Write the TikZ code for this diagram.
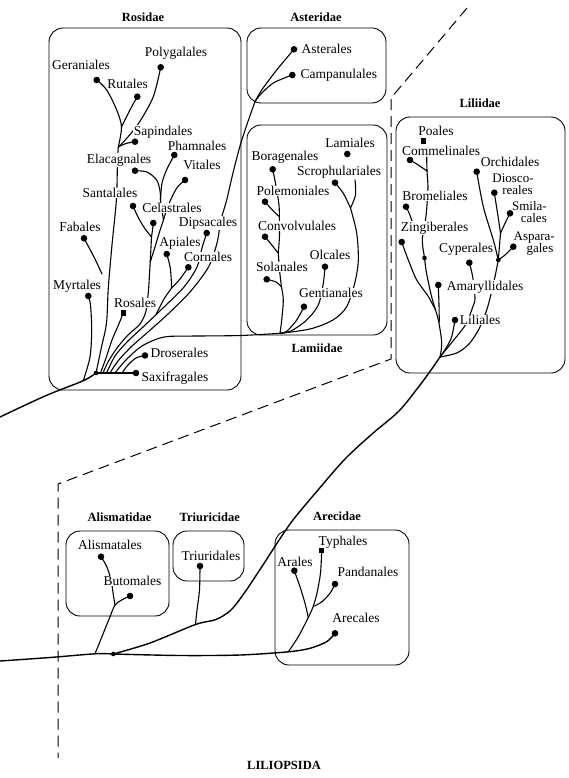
\documentclass[tikz,border=0pt]{standalone}
\usepackage{fontspec}
\setmainfont{Liberation Serif}
\begin{document}
\begin{tikzpicture}[x=1pt,y=-1pt,
  grp/.style={draw, line width=0.9pt, rounded corners=14pt},
  br/.style={line width=1.1pt, line cap=round, line join=round},
  stem/.style={br, line width=1.4pt},
  dsh/.style={line width=1pt, dash pattern=on 11pt off 6pt},
  lbl/.style={fill=white, inner sep=0.5pt, font=\fontsize{13.5}{11.5}\selectfont},
  mlbl/.style={lbl, inner sep=0pt, font=\fontsize{13}{13}\selectfont},
  ttl/.style={inner sep=0pt, font=\bfseries\fontsize{12.5}{14}\selectfont},
  dotr/.style={radius=3.3pt},
]
\useasboundingbox (0,0) rectangle (569,778);
\fill[white] (0,0) rectangle (569,778);

% ---------- coordinates: Rosidae ----------
\coordinate (dGer) at (96.7,80);
\coordinate (dRut) at (137.3,96.7);
\coordinate (jRut) at (121.5,127);
\coordinate (dPol) at (160.7,67.3);
\coordinate (dSap) at (135,141.7);
\coordinate (jGer) at (118.3,147);
\coordinate (dPha) at (174.3,155);
\coordinate (jPha) at (160.5,200);
\coordinate (dEla) at (135,170.7);
\coordinate (dVit) at (185,180);
\coordinate (jVit) at (163.5,220);
\coordinate (dCel1) at (133,206);
\coordinate (dCel2) at (153.3,223);
\coordinate (jCel) at (151.5,237);
\coordinate (jC2) at (150.2,262);
\coordinate (jC0) at (103,373);
\coordinate (dDip) at (206.7,233);
\coordinate (jD0) at (106.5,373);
\coordinate (dApi) at (166.7,254);
\coordinate (dCor) at (188.3,267.3);
\coordinate (jAC) at (171.7,288);
\coordinate (jAC2) at (156,314.6);
\coordinate (jS0) at (110,373);
\coordinate (jL0) at (115,373);
\coordinate (dFab) at (84,238.3);
\coordinate (jFab) at (102,274);
\coordinate (dMyr) at (88.3,296);
\coordinate (jMyr) at (83.3,380.7);
\coordinate (dRos) at (123.3,313);
\coordinate (jR0) at (100.5,373);
\coordinate (dDro) at (145,355.5);
\coordinate (jDr0) at (122,373);
\coordinate (dSax) at (136,373);
\coordinate (rBase) at (96,373);
\coordinate (rIn) at (0,417);
% ---------- Asteridae ----------
\coordinate (dAstr) at (294,49.3);
\coordinate (dCamp) at (292.3,75);
\coordinate (jAst) at (255,101.7);
% ---------- Lamiidae ----------
\coordinate (dLami) at (347.3,154);
\coordinate (jLamT) at (355,180);
\coordinate (dScr) at (335,182.7);
\coordinate (jScr) at (350.5,208);
\coordinate (dBor) at (272.7,169.3);
\coordinate (dPolm) at (265,201.7);
\coordinate (jPol) at (279.3,216.7);
\coordinate (dCon) at (265,236.7);
\coordinate (jCon) at (278.3,253.3);
\coordinate (dSol) at (266.7,279.3);
\coordinate (jSol) at (281.5,287);
\coordinate (dOlc) at (325,266.7);
\coordinate (dGen) at (304,306.7);
\coordinate (jLam) at (280,333.3);
% ---------- Liliidae ----------
\coordinate (dPoa) at (423.3,141);
\coordinate (jPoT) at (426.7,157);
\coordinate (dCom) at (410,160);
\coordinate (jCom) at (427,171);
\coordinate (dBro) at (406,206.7);
\coordinate (jBro) at (413,224);
\coordinate (dZin) at (401.7,242);
\coordinate (jZin) at (424.5,258);
\coordinate (jZ2) at (435.5,310);
\coordinate (dOrc) at (476.7,171.7);
\coordinate (dDio) at (494.3,192.7);
\coordinate (dSmi) at (510,213.3);
\coordinate (jDS) at (500.5,233.3);
\coordinate (dAsp) at (513.3,246.7);
\coordinate (jOrc) at (498.3,260);
\coordinate (dCyp) at (469.3,262.7);
\coordinate (dAma) at (438.3,285);
\coordinate (jAm2) at (439.3,322);
\coordinate (dLili) at (455,320);
\coordinate (jLil) at (440,357);
% ---------- lower ----------
\coordinate (mIn) at (0,661);
\coordinate (dMain) at (113.3,654);
\coordinate (jAli) at (95,653.8);
\coordinate (dAli) at (101,556.7);
\coordinate (dBut) at (130,596);
\coordinate (jBut) at (115,605);
\coordinate (dTri) at (200,566);
\coordinate (jTri) at (195.5,624.5);
\coordinate (dAra) at (294.3,570.7);
\coordinate (dTyp) at (321.7,550.7);
\coordinate (dPan) at (335,584);
\coordinate (jPT) at (314.5,606);
\coordinate (jAr) at (308.3,617.5);
\coordinate (jAre) at (288.3,651.8);
\coordinate (dAre) at (335,633.3);
% dashed divider
\coordinate (ds1) at (467,8);
\coordinate (ds2) at (391,98);
\coordinate (ds3) at (391,359);
\coordinate (ds4) at (58,484);
\coordinate (ds5) at (58,758);

% ---------- boxes ----------
\draw[grp] (49,28) rectangle (241,390);
\draw[grp] (247,28) rectangle (386,103);
\draw[grp] (247,125) rectangle (387,335);
\draw[grp] (396,117) rectangle (565,373);
\draw[grp] (66,531) rectangle (169,616);
\draw[grp] (173,531) rectangle (244,581);
\draw[grp] (275,530) rectangle (409,665);

\draw[dsh] (ds1) -- (ds2) -- (ds3) -- (ds4) -- (ds5);

% ---------- Rosidae branches ----------
\draw[stem] plot[smooth] coordinates {(rIn) (45,396) (jMyr) (rBase)};
\draw[br] plot[smooth] coordinates {(jMyr) (90,357) (91.7,330) (90.5,305) (dMyr)};
\draw[br] plot[smooth] coordinates {(jGer) (117.5,160) (117,185) (116,205) (112,245) (108.3,288) (106.5,323) (101.5,347) (rBase)};
\draw[br] plot[smooth] coordinates {(dGer) (106.7,90) (116.7,110) (jRut) (jGer)};
\draw[br] plot[smooth] coordinates {(dRut) (131,108) (jRut)};
\draw[br] plot[smooth] coordinates {(dPol) (153.3,96.7) (139.5,122) (127,138) (jGer)};
\draw[br] plot[smooth] coordinates {(dSap) (126,143.5) (jGer)};
\draw[br] plot[smooth] coordinates {(dEla) (147,172) (156.7,180) (160,191) (jPha)};
\draw[br] plot[smooth] coordinates {(dPha) (167,169) (162,183) (jPha)};
\draw[br] plot[smooth] coordinates {(jPha) (162,211) (jVit)};
\draw[br] plot[smooth] coordinates {(dVit) (177.5,187) (171.5,198) (166.5,210) (jVit)};
\draw[br] plot[smooth] coordinates {(jVit) (159.5,232) (155,247) (jC2)};
\draw[br] plot[smooth] coordinates {(dCel1) (138,217) (144.5,228) (jCel)};
\draw[br] plot[smooth] coordinates {(dCel2) (152.5,230) (jCel)};
\draw[br] plot[smooth] coordinates {(jCel) (jC2) (148.5,290) (146,311) (140,324) (128,335) (117,348) (108,362) (jC0)};
\draw[br] plot[smooth] coordinates {(dDip) (202,248) (197,267) (184,287) (163,308) (143,327) (127,342) (115,356) (jD0)};
\draw[br] plot[smooth] coordinates {(dApi) (170.3,268) (jAC)};
\draw[br] plot[smooth] coordinates {(dCor) (180,279) (jAC)};
\draw[br] plot[smooth] coordinates {(jAC) (164,299) (jAC2)};
\draw[br] plot[smooth] coordinates {(jAst) (248.5,120) (240,146) (232,177) (226.7,200) (221,220) (217,243) (208.5,267) (190,292) (168,314) (148,332) (131,347) (118,361) (jS0)};
\draw[br] plot[smooth] coordinates {(jL0) (125,361) (139,348) (153,340.5) (168,336.5) (200,336) (241,335.5) (jLam)};
\draw[br] plot[smooth] coordinates {(jDr0) (128,365) (136,358) (dDro)};
\draw[br] (rBase) -- (dSax);
\draw[br] plot[smooth] coordinates {(jR0) (106,358) (112,340) (118,326) (dRos)};
\draw[br] plot[smooth] coordinates {(dFab) (94.5,258) (jFab)};

% ---------- Asteridae ----------
\draw[br] plot[smooth] coordinates {(dAstr) (276.7,70) (261.7,90) (jAst)};
\draw[br] plot[smooth] coordinates {(dCamp) (273.3,83) (260,95) (jAst)};

% ---------- Lamiidae ----------
\draw[br] plot[smooth] coordinates {(jLamT) (355.5,195) (jScr)};
\draw[br] plot[smooth] coordinates {(dScr) (343.3,193.3) (jScr)};
\draw[br] plot[smooth] coordinates {(jScr) (356.7,233) (358.3,260) (355,282) (346.7,306.7) (333,320) (310,329) (jLam)};
\draw[br] plot[smooth] coordinates {(dBor) (276,186) (279,205) (jPol)};
\draw[br] plot[smooth] coordinates {(dPolm) (271.7,209.3) (jPol)};
\draw[br] plot[smooth] coordinates {(jPol) (279.5,235) (jCon)};
\draw[br] plot[smooth] coordinates {(dCon) (273,246.5) (jCon)};
\draw[br] plot[smooth] coordinates {(jCon) (279.5,270) (jSol)};
\draw[br] plot[smooth] coordinates {(dSol) (276,282) (jSol)};
\draw[br] plot[smooth] coordinates {(jSol) (283.3,300) (281.7,320) (jLam)};
\draw[br] plot[smooth] coordinates {(dOlc) (323.3,283.3) (318.3,305) (306.7,320) (291,331) (jLam)};
\draw[br] plot[smooth] coordinates {(dGen) (296.7,320) (287,331) (jLam)};

% ---------- Liliidae ----------
\draw[stem] plot[smooth] coordinates {(dMain) (150,643) (jTri) (216,619.5) (231,610) (245,592) (261,568) (290,524) (318,490) (345,459) (372,434) (399,411) (420,385) (431,370) (jLil)};
\draw[br] plot[smooth] coordinates {(jLil) (441.7,343) (438.3,320) (431.7,297) (426.5,273) (jZin) (422.3,240) (425.5,220) (427,205) (428,187) (jCom) (jPoT)};
\draw[br] plot[smooth] coordinates {(dCom) (418.3,165) (jCom)};
\draw[br] plot[smooth] coordinates {(dBro) (409.5,214) (jBro)};
\draw[br] plot[smooth] coordinates {(dZin) (408.3,260) (416.7,280) (428,296) (jZ2)};
\draw[br] plot[smooth] coordinates {(dAma) (439,305) (jAm2)};
\draw[br] plot[smooth] coordinates {(dLili) (451.7,336.7) (446.7,347) (jLil)};
\draw[br] plot[smooth] coordinates {(dCyp) (472.7,276.7) (475,298.3) (472.7,307) (466,324) (453,341) (jLil)};
\draw[br] plot[smooth] coordinates {(dOrc) (483.3,206.7) (493.3,240) (jOrc)};
\draw[br] plot[smooth] coordinates {(dDio) (498.3,218) (jDS)};
\draw[br] plot[smooth] coordinates {(dSmi) (505,223.3) (jDS)};
\draw[br] (jDS) -- (jOrc);
\draw[br] plot[smooth] coordinates {(dAsp) (505,255) (jOrc)};
\draw[br] plot[smooth] coordinates {(jOrc) (495,276.7) (490,298.3) (486,312) (479,329) (469,344) (456.7,353) (jLil)};

% ---------- lower part ----------
\draw[stem] plot[smooth] coordinates {(mIn) (50,657.5) (jAli) (dMain)};
\draw[stem] plot[smooth] coordinates {(dMain) (180,655.5) (240,655) (jAre) (310,648.3) (326.7,641.7) (dAre)};
\draw[br] plot[smooth] coordinates {(jAli) (103.3,633.3) (110,616.7) (jBut) (121.7,600) (dBut)};
\draw[br] plot[smooth] coordinates {(dAli) (106.5,566) (111,580) (113.5,596) (jBut)};
\draw[br] plot[smooth] coordinates {(dTri) (199.5,590) (197,610) (jTri)};
\draw[br] plot[smooth] coordinates {(dAra) (300,586.7) (305,603.3) (jAr)};
\draw[br] plot[smooth] coordinates {(dTyp) (320.5,573) (317,593) (313,607) (jAr)};
\draw[br] plot[smooth] coordinates {(dPan) (330,593.3) (322,601.7) (jPT)};
\draw[br] plot[smooth] coordinates {(jAr) (298.3,636.7) (jAre)};

% ---------- labels ----------
\node[lbl] (lGer) at (81,65) {Geraniales};
\node[lbl] (lPol) at (176,53) {Polygalales};
\node[lbl] (lRut) at (127.5,84) {Rutales};
\node[lbl] (lSap) at (163,132) {Sapindales};
\node[lbl] (lPha) at (197,146) {Phamnales};
\node[lbl] (lEla) at (119,160) {Elacagnales};
\node[lbl] (lVit) at (202,165) {Vitales};
\node[lbl] (lSan) at (110,193) {Santalales};
\node[lbl] (lCel) at (172,208) {Celastrales};
\node[lbl] (lDip) at (208,223) {Dipsacales};
\node[lbl] (lFab) at (80,227) {Fabales};
\node[lbl] (lApi) at (180,243) {Apiales};
\node[lbl] (lCor) at (208,257) {Cornales};
\node[lbl] (lMyr) at (77,286) {Myrtales};
\node[lbl] (lRos) at (135,303) {Rosales};
\node[lbl,anchor=west] (lDro) at (150,353) {Droserales};
\node[lbl,anchor=west] (lSax) at (141,378) {Saxifragales};

\node[lbl,anchor=west] (lAst) at (301,49) {Asterales};
\node[lbl,anchor=west] (lCam) at (300,75) {Campanulales};

\node[lbl] (lLam) at (350,143) {Lamiales};
\node[lbl] (lScr) at (339,172) {Scrophulariales};
\node[lbl] (lBor) at (285,157) {Boragenales};
\node[lbl] (lPlm) at (293,191) {Polemoniales};
\node[lbl] (lCon) at (297,226) {Convolvulales};
\node[lbl] (lSol) at (282,267) {Solanales};
\node[lbl] (lOlc) at (330,255) {Olcales};
\node[lbl] (lGen) at (331,293) {Gentianales};

\node[lbl] (lPoa) at (436,131) {Poales};
\node[lbl] (lCom) at (441,151) {Commelinales};
\node[lbl] (lBro) at (435,196) {Bromeliales};
\node[lbl] (lZin) at (434.5,228) {Zingiberales};
\node[lbl] (lOrc) at (510,162) {Orchidales};
\node[mlbl,anchor=base] (lDio1) at (513,182.5) {Diosco-};
\node[mlbl,anchor=base] (lDio2) at (517.5,194) {reales};
\node[mlbl,anchor=base east] (lSmi1) at (547,210.3) {Smila-};
\node[mlbl,anchor=base east] (lSmi2) at (547,222.3) {cales};
\node[mlbl,anchor=base east] (lAsp1) at (555,240.8) {Aspara-};
\node[mlbl,anchor=base east] (lAsp2) at (553.5,252.5) {gales};
\node[lbl] (lCyp) at (466,249) {Cyperales};
\node[lbl] (lAma) at (485,287) {Amaryllidales};
\node[lbl] (lLil) at (480,320) {Liliales};

\node[lbl] (lAli) at (110,545) {Alismatales};
\node[lbl] (lBut) at (132.5,581) {Butomales};
\node[lbl] (lTri) at (211,556) {Triuridales};
\node[lbl] (lTyp) at (343,542) {Typhales};
\node[lbl] (lAra) at (295,562) {Arales};
\node[lbl] (lPan) at (368,572) {Pandanales};
\node[lbl] (lAre) at (356,618) {Arecales};

\node[ttl] (tRos) at (143,17) {Rosidae};
\node[ttl] (tAst) at (316,17) {Asteridae};
\node[ttl] (tLam) at (317,348) {Lamiidae};
\node[ttl] (tLil) at (480,103) {Liliidae};
\node[ttl] (tAli) at (119.5,517) {Alismatidae};
\node[ttl] (tTri) at (209.7,517) {Triuricidae};
\node[ttl] (tAre) at (337,516) {Arecidae};
\node[ttl] (tLio) at (284,765) {LILIOPSIDA};

% ---------- dots ----------
\foreach \d in {dGer,dRut,dPol,dSap,dPha,dEla,dVit,dCel1,dCel2,dDip,dApi,dCor,dFab,dMyr,dDro,dSax,
  dAstr,dCamp,dLami,dScr,dBor,dPolm,dCon,dSol,dOlc,dGen,
  dCom,dBro,dZin,dOrc,dDio,dSmi,dAsp,dCyp,dAma,dLili,
  dAli,dBut,dTri,dAra,dPan,dAre}
  {\fill (\d) circle[dotr];}
\foreach \d in {dRos,dPoa,dTyp}
  {\fill ([shift={(-2.6,-2.6)}]\d) rectangle ([shift={(2.6,2.6)}]\d);}
\foreach \d in {rBase,jZin,jOrc,dMain}
  {\fill (\d) circle[radius=2.3pt];}
\end{tikzpicture}
\end{document}
